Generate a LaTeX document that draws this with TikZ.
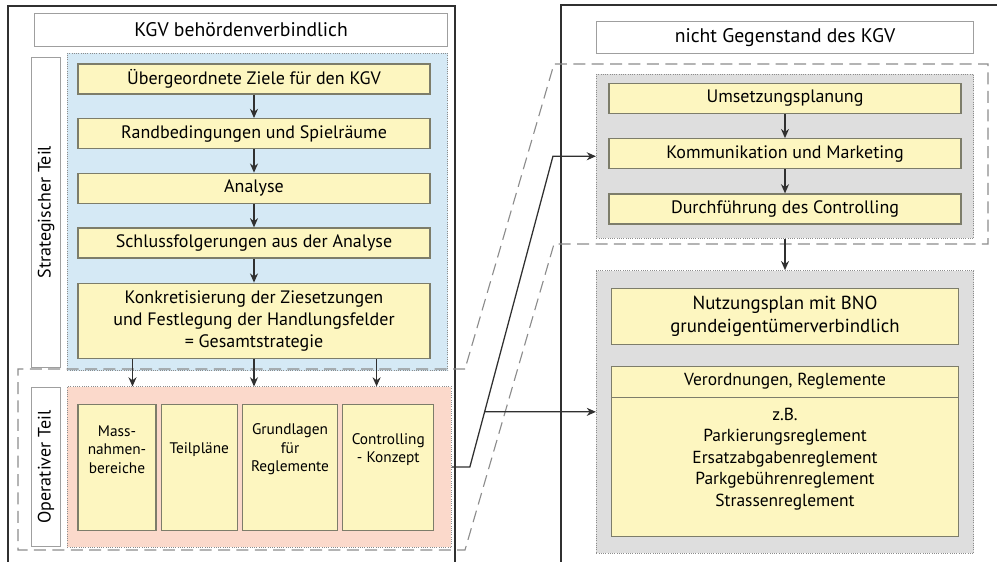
\documentclass[tikz,border=0pt]{standalone}
\usepackage{fontspec}
\setmainfont{PT Sans}
\usetikzlibrary{positioning, arrows.meta, calc, fit, backgrounds}
\definecolor{kgvyel}{HTML}{FDF6C0}
\definecolor{kgvblue}{HTML}{D5E9F5}
\definecolor{kgvpink}{HTML}{FBD9CB}
\definecolor{kgvgray}{HTML}{DEDEDE}
\definecolor{kgvline}{HTML}{7D7D6A}
\definecolor{kgvdash}{HTML}{8C8C8C}
\definecolor{kgvdark}{HTML}{303030}
\newcommand\kgvfont{\fontsize{12.8}{15.6}\selectfont}
\newcommand\kgvbig{\fontsize{14}{16.3}\selectfont}
\newcommand\kgvmid{\fontsize{13.4}{16.3}\selectfont}
\newcommand\kgvlist{\fontsize{12.4}{15.3}\selectfont}
\newcommand\kgvsmall{\fontsize{10.9}{13.2}\selectfont}

\begin{document}
\begin{tikzpicture}[
    node distance=5.85mm,
    ybox/.style={draw=kgvline, line width=0.9pt, fill=kgvyel, minimum width=88mm,
      minimum height=7.5mm, inner sep=0pt, align=center, font=\kgvfont},
    optxt/.style={inner sep=0pt, align=center, font=\kgvsmall},
    hdr/.style={draw=gray!75, fill=white, line width=0.6pt, inner sep=0pt, font=\kgvbig},
    side/.style={hdr, minimum width=7.25mm, font=\kgvfont},
    pane/.style={draw=kgvdash, densely dotted, line width=0.6pt},
    frame/.style={kgvdark, line width=1.3pt},
    zoomline/.style={kgvdash, line width=0.8pt, dash pattern=on 3mm off 1.6mm},
    arr/.style={-{Stealth[length=2.3mm, width=2mm]}, line width=0.9pt, kgvdark}]
\useasboundingbox (0,0) rectangle (249.25mm,-140.5mm);

% --- frames ---
\draw[frame] (2mm,-140.5mm) -- (2mm,-1.5mm) -- (113.75mm,-1.5mm) -- (113.75mm,-140.5mm);
\draw[frame] (140.25mm,-140.5mm) -- (140.25mm,-1.25mm) -- (249.25mm,-1.25mm);
\draw[zoomline] (116.25mm,-92.25mm) -- (4.5mm,-92.25mm) -- (4.5mm,-137.5mm)
  -- (116.25mm,-137.5mm) -- (138.5mm,-61mm) -- (247mm,-61mm) -- (247mm,-16mm)
  -- (138.5mm,-16mm) -- cycle;

% --- Strategischer Teil ---
\node[ybox] (s1) at (63.5mm,-19.75mm) {Übergeordnete Ziele für den KGV};
\node[ybox, below=of s1] (s2) {Randbedingungen und Spielräume};
\node[ybox, below=of s2] (s3) {Analyse};
\node[ybox, below=of s3] (s4) {Schlussfolgerungen aus der Analyse};
\node[ybox, minimum height=18.75mm, below=6mm of s4] (s5){%
  Konkretisierung der Ziesetzungen\\und Festlegung der Handlungsfelder\\= Gesamtstrategie};
\foreach \a/\b in {s1/s2,s2/s3,s3/s4,s4/s5}{\draw[arr](\a) -- (\b);}
\begin{pgfonlayer}{background}
\node[pane, fill=kgvblue, inner xsep=3.375mm, inner ysep=2.75mm, xshift=0.875mm, yshift=-0.25mm,
  fit=(s1)(s5)](Zstrat){};
\end{pgfonlayer}
\node[side, minimum height=77.5mm, left=1.5mm of Zstrat](lstrat){\rotatebox{90}{Strategischer Teil}};
\node[hdr, minimum width=103.25mm, minimum height=8.25mm,
  above left=1.5mm and 0mm of Zstrat.north east](hdrL){KGV behördenverbindlich};

% --- Operativer Teil ---
\node[ybox, minimum width=19.5mm, minimum height=31.5mm, below=11.25mm of s5.south west,
  anchor=north west](o1){};
\node[ybox, minimum width=19mm, minimum height=31.5mm, right=1mm of o1](o2){};
\node[ybox, minimum width=23.75mm, minimum height=31.5mm, right=1mm of o2](o3){};
\node[ybox, minimum width=22.75mm, minimum height=31.5mm, right=1mm of o3](o4){};
\node[optxt] (o1t) at ([yshift=4.5mm]o1.center) {Mass-\\nahmen-\\bereiche};
\node[optxt] (o2t) at ([yshift=4.5mm]o2.center) {Teilpläne};
\node[optxt] (o3t) at ([yshift=4.5mm]o3.center) {Grundlagen\\für\\Reglemente};
\node[optxt] (o4t) at ([yshift=4.5mm]o4.center) {Controlling\\- Konzept};
\begin{pgfonlayer}{background}
\node[pane, fill=kgvpink, inner xsep=3.375mm, inner ysep=4.125mm, xshift=0.875mm, yshift=0.125mm,
  fit=(o1)(o4)](Zop){};
\end{pgfonlayer}
\node[side, minimum height=39.75mm, left=1.5mm of Zop](lop){\rotatebox{90}{Operativer Teil}};
\foreach \f in {0.156,0.5,0.847}{
  \path ($(s5.south west)!\f!(s5.south east)$) coordinate (t);
  \draw[arr](t) -- (t |- Zop.north);}

% --- nicht Gegenstand des KGV ---
\node[ybox] (r1) at (196.25mm,-24.625mm) {Umsetzungsplanung};
\node[ybox, below=6mm of r1] (r2) {Kommunikation und Marketing};
\node[ybox, below=6mm of r2] (r3) {Durchführung des Controlling};
\draw[arr](r1) -- (r2);
\draw[arr](r2) -- (r3);
\begin{pgfonlayer}{background}
\node[pane, fill=kgvgray, inner xsep=3mm, inner ysep=2.75mm, yshift=-0.625mm, fit=(r1)(r3)](Zr1){};
\end{pgfonlayer}
\node[hdr, minimum width=94.25mm, minimum height=8mm, above=5mm of Zr1](hdrR){nicht Gegenstand des KGV};

\node[ybox, minimum width=86.75mm, minimum height=14mm, below=12.25mm of Zr1, font=\kgvmid](n1){%
  Nutzungsplan mit BNO\\grundeigentümerverbindlich};
\node[ybox, minimum width=86.75mm, minimum height=42.5mm, below=5.25mm of n1](v1){};
\node[minimum height=7.75mm, inner sep=0pt, font=\kgvlist, below=0pt of v1.north](v1h){Verordnungen, Reglemente};
\draw[kgvline, line width=0.9pt](v1.west |- v1h.south) -- (v1.east |- v1h.south);
\node[optxt, font=\kgvlist, below=2.5mm of v1h](v1b){%
  z.B.\\Parkierungsreglement\\Ersatzabgabenreglement\\Parkgebührenreglement\\Strassenreglement};
\begin{pgfonlayer}{background}
\node[pane, fill=kgvgray, inner xsep=3.625mm, inner ysep=4.125mm, yshift=0.125mm, fit=(n1)(v1)](Zr2){};
\end{pgfonlayer}
\draw[arr](Zr1.south) -- (Zr2.north);

% --- Verbindung operativ -> Umsetzung ---
\coordinate (lowBend) at ($(Zop.east)+(4.5mm,0)$);
\coordinate (topBend) at ($(Zr1.west)+(-10.75mm,0)$);
\coordinate (r2in) at ($(Zr2.west)+(-30mm,0)$);
\draw[arr](Zop.east) -- (lowBend) -- (topBend) -- (Zr1.west);
\draw[arr](intersection of lowBend--topBend and Zr2.west--r2in) -- (Zr2.west);
\end{tikzpicture}
\end{document}
